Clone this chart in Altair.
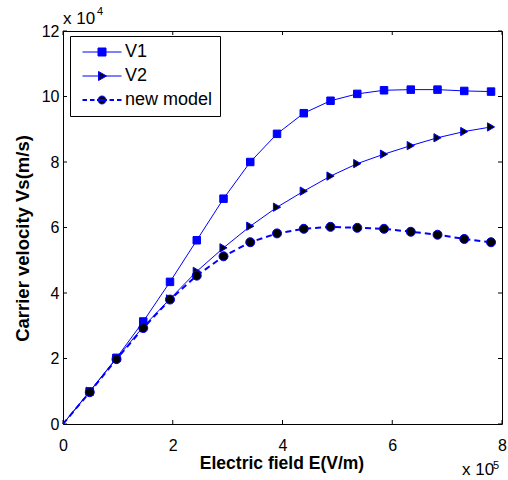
import altair as alt
import pandas as pd

# Electric field in units of 1e5 V/m
E = [0, 0.4875, 0.975, 1.4625, 1.95, 2.4375, 2.925, 3.4125, 3.9, 4.3875,
     4.875, 5.3625, 5.85, 6.3375, 6.825, 7.3125, 7.8]
# Carrier velocity in units of 1e4 m/s
V1 = [0, 0.99, 2.02, 3.13, 4.34, 5.61, 6.88, 8.0, 8.86, 9.49, 9.87, 10.08,
      10.19, 10.21, 10.21, 10.17, 10.15]
V2 = [0, 1.0, 2.0, 2.97, 3.82, 4.66, 5.38, 6.04, 6.62, 7.11, 7.57, 7.95,
      8.24, 8.50, 8.74, 8.93, 9.07]
NEW = [0, 0.97, 1.98, 2.93, 3.80, 4.53, 5.12, 5.55, 5.82, 5.96, 6.02, 5.99,
       5.96, 5.87, 5.78, 5.65, 5.55]
SERIES = ["V1", "V2", "new model"]
X_TICKS = [0, 2, 4, 6, 8]
Y_TICKS = [0, 2, 4, 6, 8, 10, 12]
X_TITLE = "Electric field E(V/m)"
Y_TITLE = "Carrier velocity Vs(m/s)"
Y_MULT = ["x 10", "4"]
X_MULT = ["x 10", "5"]

W, H = 439, 393
FONT = "Liberation Sans"
BLUE = "#0000ff"

rows = []
for name, vals in zip(SERIES, [V1, V2, NEW]):
    for e, v in zip(E, vals):
        rows.append({"E": e, "V": v, "series": name})
df = pd.DataFrame(rows)

xs = alt.Scale(domain=[0, 8], nice=False)
ys = alt.Scale(domain=[0, 12], nice=False)

xaxis = alt.Axis(values=X_TICKS, ticks=False, tickSize=0, domain=False, grid=False,
                 labelFontSize=16, labelFont=FONT, labelColor="black", labelPadding=13,
                 labelFlush=False, title=X_TITLE, titleFont=FONT, titleFontSize=17.5,
                 titleFontWeight="bold", titleColor="black", titleBaseline="alphabetic",
                 titleY=44, titleX=W / 2 - 1)
yaxis = alt.Axis(values=Y_TICKS, ticks=False, tickSize=0, domain=False, grid=False,
                 labelFontSize=16, labelFont=FONT, labelColor="black", labelPadding=4,
                 labelFlush=False, title=Y_TITLE, titleFont=FONT, titleFontSize=18.5,
                 titleFontWeight="bold", titleColor="black", titleBaseline="alphabetic",
                 titleAngle=270, titleAlign="center", titleX=-35, titleY=207)

base = alt.Chart(df)

solid = base.transform_filter("datum.series != 'new model'").mark_line(
    color=BLUE, strokeWidth=1).encode(
    x=alt.X("E:Q", scale=xs, axis=xaxis),
    y=alt.Y("V:Q", scale=ys, axis=yaxis),
    detail="series:N")

dashed = base.transform_filter("datum.series == 'new model'").mark_line(
    color=BLUE, strokeWidth=2, strokeDash=[6, 4]).encode(
    x=alt.X("E:Q", scale=xs), y=alt.Y("V:Q", scale=ys))

points = base.transform_filter("datum.E > 0").mark_point(
    filled=True, stroke=BLUE, opacity=1).encode(
    x=alt.X("E:Q", scale=xs), y=alt.Y("V:Q", scale=ys),
    shape=alt.Shape("series:N",
                    scale=alt.Scale(domain=SERIES, range=["square", "triangle-right", "circle"]),
                    legend=None),
    fill=alt.Fill("series:N",
                  scale=alt.Scale(domain=SERIES, range=[BLUE, "black", "black"]),
                  legend=None),
    size=alt.Size("series:N", scale=alt.Scale(domain=SERIES, range=[56, 81, 49]), legend=None),
    strokeWidth=alt.StrokeWidth("series:N", scale=alt.Scale(domain=SERIES, range=[1, 1, 1.6]),
                                legend=None))

# legend symbols: line + marker, path units are 5 px (symbolSize 100)
def dash_pair(a, b):
    return f"M{a},-0.1H{b}M{a},0.1H{b}"

LEG_PATHS = [
    "M-3.9,0H3.9M-0.8,-0.8H0.8V0.8H-0.8Z",
    "M-3.9,0H3.9M-0.7,-0.9L0.9,0L-0.7,0.9Z",
    "".join(dash_pair(a, b) for a, b in [(-3.9, -3.0), (-2.4, -1.5), (-1, 1), (1.5, 2.4), (3.0, 3.9)])
    + "M0.8,0A0.8,0.8 0 1,1 -0.8,0A0.8,0.8 0 1,1 0.8,0Z",
]
legend = alt.Legend(
    title=None, orient="none", legendX=7, legendY=5, padding=7,
    strokeColor="black", fillColor="white", symbolSize=100, symbolOpacity=1,
    symbolOffset=16, symbolStrokeColor=BLUE, symbolStrokeWidth=1, labelFont=FONT,
    labelFontSize=18, labelColor="black", rowPadding=6, labelOffset=14)

leg_layer = alt.Chart(pd.DataFrame({"series": SERIES})).mark_point(
    filled=True, opacity=0).encode(
    x=alt.value(0), y=alt.value(0),
    shape=alt.Shape("series:N", scale=alt.Scale(domain=SERIES, range=LEG_PATHS), legend=legend),
    fill=alt.Fill("series:N", scale=alt.Scale(domain=SERIES, range=[BLUE, "black", "black"]),
                  legend=legend),
    stroke=alt.Stroke("series:N", scale=alt.Scale(domain=SERIES, range=[BLUE, BLUE, BLUE]),
                      legend=legend))

xt = pd.DataFrame({"t": X_TICKS})
yt = pd.DataFrame({"t": Y_TICKS})
tick_x_bot = alt.Chart(xt).mark_rule(color="black").encode(
    x=alt.X("t:Q", scale=xs), y=alt.value(H), y2=alt.value(H - 4))
tick_x_top = alt.Chart(xt).mark_rule(color="black").encode(
    x=alt.X("t:Q", scale=xs), y=alt.value(0), y2=alt.value(4))
tick_y_left = alt.Chart(yt).mark_rule(color="black").encode(
    y=alt.Y("t:Q", scale=ys), x=alt.value(0), x2=alt.value(4))
tick_y_right = alt.Chart(yt).mark_rule(color="black").encode(
    y=alt.Y("t:Q", scale=ys), x=alt.value(W), x2=alt.value(W - 4))

def txt(s, size, x, y):
    return alt.Chart(pd.DataFrame({"t": [s]})).mark_text(
        font=FONT, fontSize=size, color="black", align="left", baseline="alphabetic"
    ).encode(text="t:N", x=alt.value(x), y=alt.value(y))

ann = [
    txt(Y_MULT[0], 17, 0, -7), txt(Y_MULT[1], 11, 34, -16),
    txt(X_MULT[0], 17, 399, 444), txt(X_MULT[1], 11, 430, 438),
]

chart = alt.layer(
    tick_x_bot, tick_x_top, tick_y_left, tick_y_right,
    solid, dashed, points, leg_layer, *ann
).resolve_scale(shape="independent", fill="independent", stroke="independent",
                strokeWidth="independent").properties(
    width=W, height=H, background="white",
    autosize=alt.AutoSizeParams(type="none"),
    padding={"left": 63, "top": 31, "right": 6, "bottom": 56},
).configure_view(stroke="black", strokeWidth=1)

chart.save("out.html", embed_options={"renderer": "svg", "actions": False})
